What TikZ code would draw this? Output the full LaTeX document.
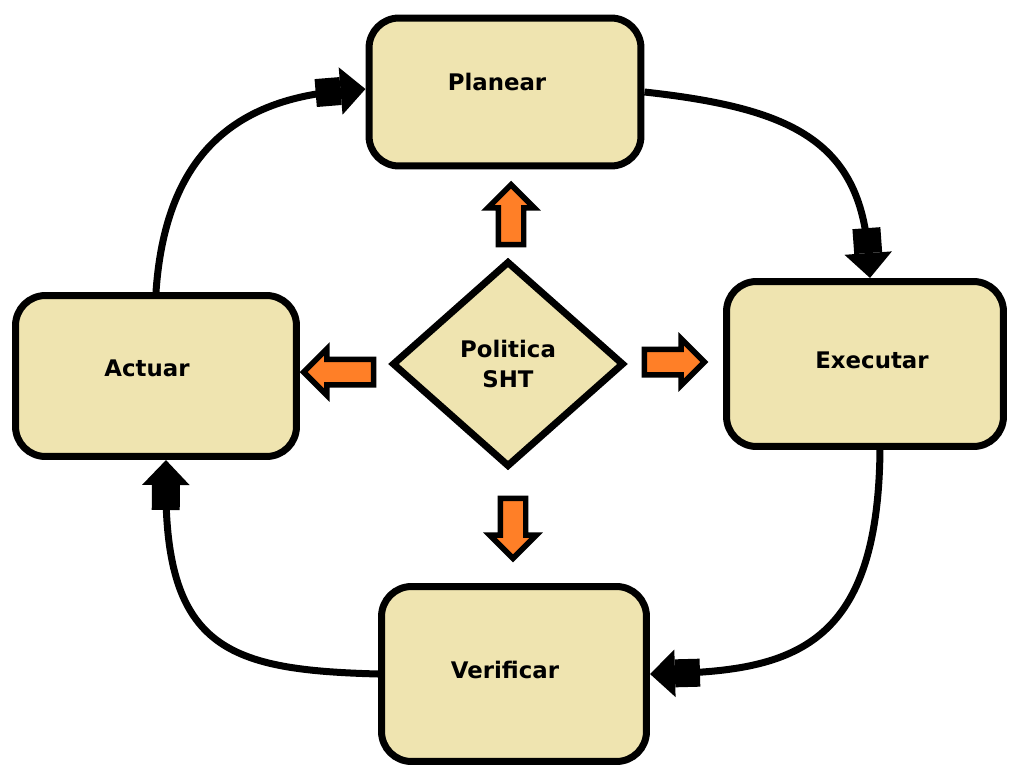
\documentclass[tikz,border=0pt]{standalone}
\usepackage{fontspec}
\setmainfont{DejaVu Sans}
\usetikzlibrary{shapes.geometric}
\usetikzlibrary{shapes.arrows}
\usetikzlibrary{arrows.meta}
\definecolor{lighttan}{HTML}{EFE4B0}
\definecolor{paintorange}{HTML}{FF7F27}

\begin{document}
\begin{tikzpicture}[x=0.02cm,y=-0.02cm,
		phase/.style={draw,line width=1.4mm,fill=lighttan,rounded corners=6mm,inner sep=0pt},
		every label/.style={font=\bfseries\fontsize{13}{15}\selectfont,inner sep=0pt},
		loop/.style={line width=1.4mm,-{Rectangle[length=5mm,width=5.6mm,sep=0pt]Triangle[length=5mm,width=9.2mm]}},
		push/.style={single arrow,draw,line width=1.1mm,fill=paintorange,minimum height=12mm,inner sep=2mm,
			single arrow head extend=2.1mm,single arrow tip angle=90}]
		\useasboundingbox (0,0) rectangle (1009,765);
		% the four phases
		\node[phase,minimum width=54.4mm,minimum height=29.6mm,
			label={[xshift=-1.6mm,yshift=2mm]center:Planear}] (planear) at (505,92) {};
		\node[phase,minimum width=55.4mm,minimum height=33mm,
			label={[xshift=1.4mm,yshift=0.8mm]center:Executar}] (executar) at (865,364) {};
		\node[phase,minimum width=53mm,minimum height=35mm,
			label={[xshift=-1.8mm,yshift=0.8mm]center:Verificar}] (verificar) at (514,674) {};
		\node[phase,minimum width=56.2mm,minimum height=32.2mm,
			label={[xshift=-1.8mm,yshift=1.6mm]center:Actuar}] (actuar) at (156,376) {};
		% policy in the middle
		\node[diamond,draw,line width=1.4mm,fill=lighttan,inner sep=0pt,minimum width=46.4mm,minimum height=41.2mm,
			align=center,font=\bfseries\fontsize{13}{17}\selectfont] (politica) at (508,364) {Politica\\SHT};
		\node[push,shape border rotate=90] (pup) at (511,221) {};
		\node[push,shape border rotate=180,minimum height=14mm] (pleft) at (345,372) {};
		\node[push] (pright) at (668,362) {};
		\node[push,shape border rotate=270] (pdown) at (513,522) {};
		% cycle
		\draw[loop] (actuar.north) .. controls (165,160) and (230,100) .. ([yshift=0.6mm]planear.west);
		\draw[loop] (planear.east) .. controls (790,108) and (860,140) .. ([xshift=1mm]executar.north);
		\draw[loop] ([xshift=3mm]executar.south) .. controls (878,640) and (800,670) .. (verificar.east);
		\draw[loop] (verificar.west) .. controls (230,670) and (165,650) .. ([xshift=2mm]actuar.south);
\end{tikzpicture}
\end{document}
